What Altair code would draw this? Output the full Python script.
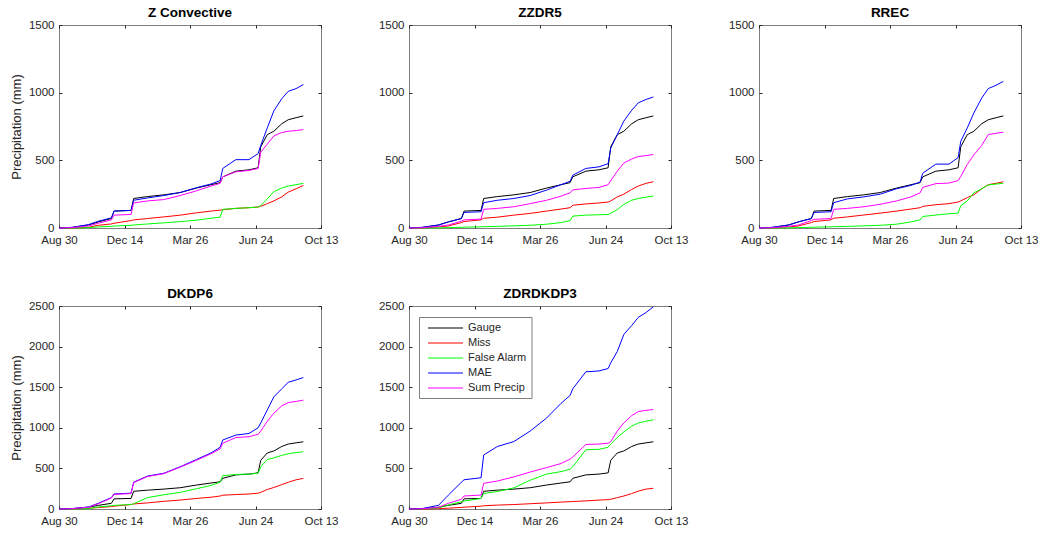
import altair as alt
import pandas as pd

# Shared sampling positions (day index from Aug 30) and the date labels on the axis
DAY = [0, 20, 45, 60, 80, 84, 110, 114, 135, 160, 185, 210, 232, 246, 250,
       270, 290, 304, 308, 318, 328, 340, 350, 362, 373]
TICK_DAYS = [0, 100, 200, 300, 400]
TICK_LABELS = ["Aug 30", "Dec 14", "Mar 26", "Jun 24", "Oct 13"]

SERIES = ["Gauge", "Miss", "False Alarm", "MAE", "Sum Precip"]
COLORS = ["#000000", "#ff0000", "#00ff00", "#0000ff", "#ff00ff"]

# Cumulative gauge precipitation (mm), common to every estimator
GAUGE = [0, 4, 22, 45, 70, 125, 130, 218, 232, 245, 262, 295, 320, 335, 378,
         420, 430, 445, 600, 690, 715, 770, 800, 815, 828]

# Z Convective
ZC_MISS = [0, 0, 5, 20, 30, 35, 55, 60, 70, 82, 95, 112, 125, 132, 135,
           145, 150, 155, 160, 180, 200, 230, 265, 290, 315]
ZC_FA = [0, 0, 3, 8, 12, 14, 20, 22, 30, 38, 47, 58, 72, 80, 138,
         145, 150, 155, 165, 215, 268, 295, 310, 320, 330]
ZC_MAE = [0, 5, 25, 50, 75, 125, 130, 205, 222, 240, 262, 298, 325, 350, 440,
          505, 505, 550, 610, 740, 865, 955, 1010, 1030, 1060]
ZC_SUM = [0, 3, 15, 35, 60, 95, 100, 185, 200, 210, 240, 275, 310, 330, 378,
          415, 425, 440, 560, 620, 680, 705, 715, 720, 727]

# ZZDR5
ZZ_MISS = [0, 0, 8, 15, 40, 48, 60, 72, 80, 95, 108, 125, 140, 150, 168,
           178, 185, 192, 200, 230, 250, 285, 310, 330, 342]
ZZ_FA = [0, 0, 1, 3, 5, 6, 9, 10, 12, 16, 20, 28, 40, 55, 88,
         95, 98, 100, 110, 135, 175, 205, 218, 228, 236]
ZZ_MAE = [0, 5, 22, 45, 70, 115, 120, 187, 205, 218, 240, 280, 320, 345, 390,
          440, 452, 475, 590, 690, 790, 870, 925, 950, 968]
ZZ_SUM = [0, 2, 12, 22, 50, 60, 66, 138, 145, 157, 180, 205, 235, 260, 282,
          292, 300, 320, 350, 420, 480, 510, 528, 535, 543]

# RREC
RR_MISS = [0, 0, 8, 15, 40, 48, 60, 72, 82, 96, 110, 125, 140, 150, 160,
           172, 180, 192, 200, 225, 245, 290, 320, 330, 342]
RR_FA = [0, 0, 1, 3, 5, 6, 9, 10, 12, 16, 20, 28, 45, 60, 85,
         96, 105, 110, 165, 200, 260, 290, 318, 325, 330]
RR_MAE = [0, 5, 22, 45, 70, 115, 120, 187, 215, 230, 250, 290, 315, 340, 405,
          472, 472, 520, 640, 740, 850, 960, 1030, 1055, 1083]
RR_SUM = [0, 2, 12, 22, 55, 64, 70, 138, 145, 157, 175, 200, 230, 260, 300,
          328, 332, 350, 380, 470, 540, 610, 690, 700, 708]

# DKDP6
DK_MISS = [0, 0, 8, 18, 30, 35, 55, 62, 75, 95, 110, 130, 145, 160, 170,
           178, 185, 195, 205, 240, 265, 300, 330, 360, 377]
DK_FA = [0, 0, 5, 25, 40, 45, 55, 65, 140, 175, 205, 250, 290, 330, 410,
         425, 430, 440, 520, 610, 630, 660, 680, 695, 705]
DK_MAE = [0, 5, 25, 70, 140, 185, 195, 330, 405, 440, 520, 610, 690, 760, 850,
          910, 930, 1000, 1060, 1220, 1380, 1480, 1560, 1590, 1618]
DK_SUM = [0, 4, 22, 65, 135, 180, 190, 325, 400, 435, 515, 600, 680, 740, 810,
          880, 890, 920, 960, 1080, 1180, 1270, 1310, 1325, 1341]

# ZDRDKDP3
ZK_MISS = [0, 0, 5, 10, 20, 22, 35, 40, 48, 55, 65, 75, 85, 90, 92,
           100, 110, 115, 120, 140, 160, 190, 220, 245, 255]
ZK_FA = [0, 2, 15, 50, 90, 98, 130, 190, 215, 260, 355, 430, 460, 490, 520,
         730, 735, 760, 800, 880, 950, 1020, 1060, 1080, 1100]
ZK_MAE = [0, 5, 45, 170, 330, 360, 385, 665, 770, 830, 960, 1120, 1300, 1400, 1480,
          1690, 1700, 1730, 1800, 1940, 2150, 2260, 2360, 2420, 2490]
ZK_SUM = [0, 3, 20, 70, 120, 160, 172, 316, 345, 395, 455, 510, 560, 615, 640,
          795, 800, 810, 830, 960, 1060, 1150, 1200, 1215, 1225]

FONT = "Liberation Sans"
TEXT = "#262626"
W, H = 262, 203

LABEL_EXPR = "[" + ",".join(f"'{t}'" for t in TICK_LABELS) + "][round(datum.value / 100)]"

color = alt.Color("series:N", scale=alt.Scale(domain=SERIES, range=COLORS), legend=None)


def panel(title, ymax, miss, fa, mae, tot, ytitle=None, with_legend=False):
    cols = dict(zip(SERIES, [GAUGE, miss, fa, mae, tot]))
    rows = []
    for k, name in enumerate(SERIES):
        for d, v in zip(DAY, cols[name]):
            rows.append({"day": d, "mm": v, "series": name, "k": k})
    df = pd.DataFrame(rows)

    xs = alt.Scale(domain=[0, 400], nice=False, zero=False)
    ys = alt.Scale(domain=[0, ymax], nice=False)
    yticks = list(range(0, ymax + 1, 500))
    base = alt.Chart(df)

    yaxis_kw = dict(values=yticks, format="d", ticks=False, domain=False, grid=False,
                    labelFlush=False, labelPadding=5)
    if ytitle:
        yaxis_kw.update(title=ytitle, titlePadding=5)
    else:
        yaxis_kw.update(title=None)

    lines = base.mark_line(strokeWidth=1).encode(
        x=alt.X("day:Q", scale=xs,
                axis=alt.Axis(values=TICK_DAYS, labelExpr=LABEL_EXPR, ticks=False,
                              domain=False, grid=False, labelFlush=False,
                              labelPadding=6, title=None)),
        y=alt.Y("mm:Q", scale=ys, axis=alt.Axis(**yaxis_kw)),
        color=color,
    )

    # inward-pointing tick marks on all four sides of the box
    def inner_ticks(x_orient, y_orient):
        return base.mark_line(opacity=0).encode(
            x=alt.X("day:Q", scale=xs,
                    axis=alt.Axis(orient=x_orient, offset=-H, values=TICK_DAYS,
                                  labels=False, domain=False, grid=False,
                                  tickSize=3, title=None)),
            y=alt.Y("mm:Q", scale=ys,
                    axis=alt.Axis(orient=y_orient, offset=-W, values=yticks,
                                  labels=False, domain=False, grid=False,
                                  tickSize=3, title=None)),
            detail="series:N",
        )

    layers = [lines, inner_ticks("top", "right"), inner_ticks("bottom", "left")]

    if with_legend:
        leg = pd.DataFrame({"series": SERIES, "hex": COLORS,
                            "row": list(range(len(SERIES)))})
        ly = alt.Y("row:Q", scale=alt.Scale(domain=[0, 4], range=[22, 82]), axis=None)
        box = alt.Chart(pd.DataFrame({"b": [0]})).mark_rect(
            fill="white", stroke="#7f7f7f", strokeWidth=1
        ).encode(x=alt.value(10.5), x2=alt.value(123), y=alt.value(11.5), y2=alt.value(92.5))
        samples = alt.Chart(leg).mark_rule(strokeWidth=1.2).encode(
            x=alt.value(19), x2=alt.value(54), y=ly,
            stroke=alt.Stroke("hex:N", scale=None))
        labels = alt.Chart(leg).mark_text(
            align="left", baseline="middle", font=FONT, fontSize=11, color=TEXT
        ).encode(x=alt.value(59), y=ly, text="series:N")
        layers += [box, samples, labels]

    ch = alt.layer(*layers).resolve_axis(x="independent", y="independent")
    if with_legend:
        ch = ch.resolve_scale(y="independent")
    return ch.properties(
        width=W, height=H,
        title=alt.TitleParams(title, frame="group", anchor="middle", offset=0),
    )


p1 = panel("Z Convective", 1500, ZC_MISS, ZC_FA, ZC_MAE, ZC_SUM, ytitle="Precipitation (mm)")
p2 = panel("ZZDR5", 1500, ZZ_MISS, ZZ_FA, ZZ_MAE, ZZ_SUM)
p3 = panel("RREC", 1500, RR_MISS, RR_FA, RR_MAE, RR_SUM)
p4 = panel("DKDP6", 2500, DK_MISS, DK_FA, DK_MAE, DK_SUM, ytitle="Precipitation (mm)")
p5 = panel("ZDRDKDP3", 2500, ZK_MISS, ZK_FA, ZK_MAE, ZK_SUM, with_legend=True)

chart = (
    alt.concat(p1, p2, p3, p4, p5, columns=3, spacing={"row": 78, "column": 88},
               bounds="flush")
    .properties(padding={"left": 9, "top": 5, "right": 5, "bottom": 5}, background="white")
    .configure_view(stroke="#7f7f7f", strokeWidth=1)
    .configure_axis(labelFont=FONT, labelFontSize=11.5, labelColor=TEXT,
                    tickColor=TEXT, titleFont=FONT, titleFontSize=13,
                    titleFontWeight="normal", titleColor=TEXT)
    .configure_title(font=FONT, fontSize=13.5, fontWeight="bold", color="#000000")
)

chart.save("out.html", embed_options={"renderer": "svg", "actions": False})
